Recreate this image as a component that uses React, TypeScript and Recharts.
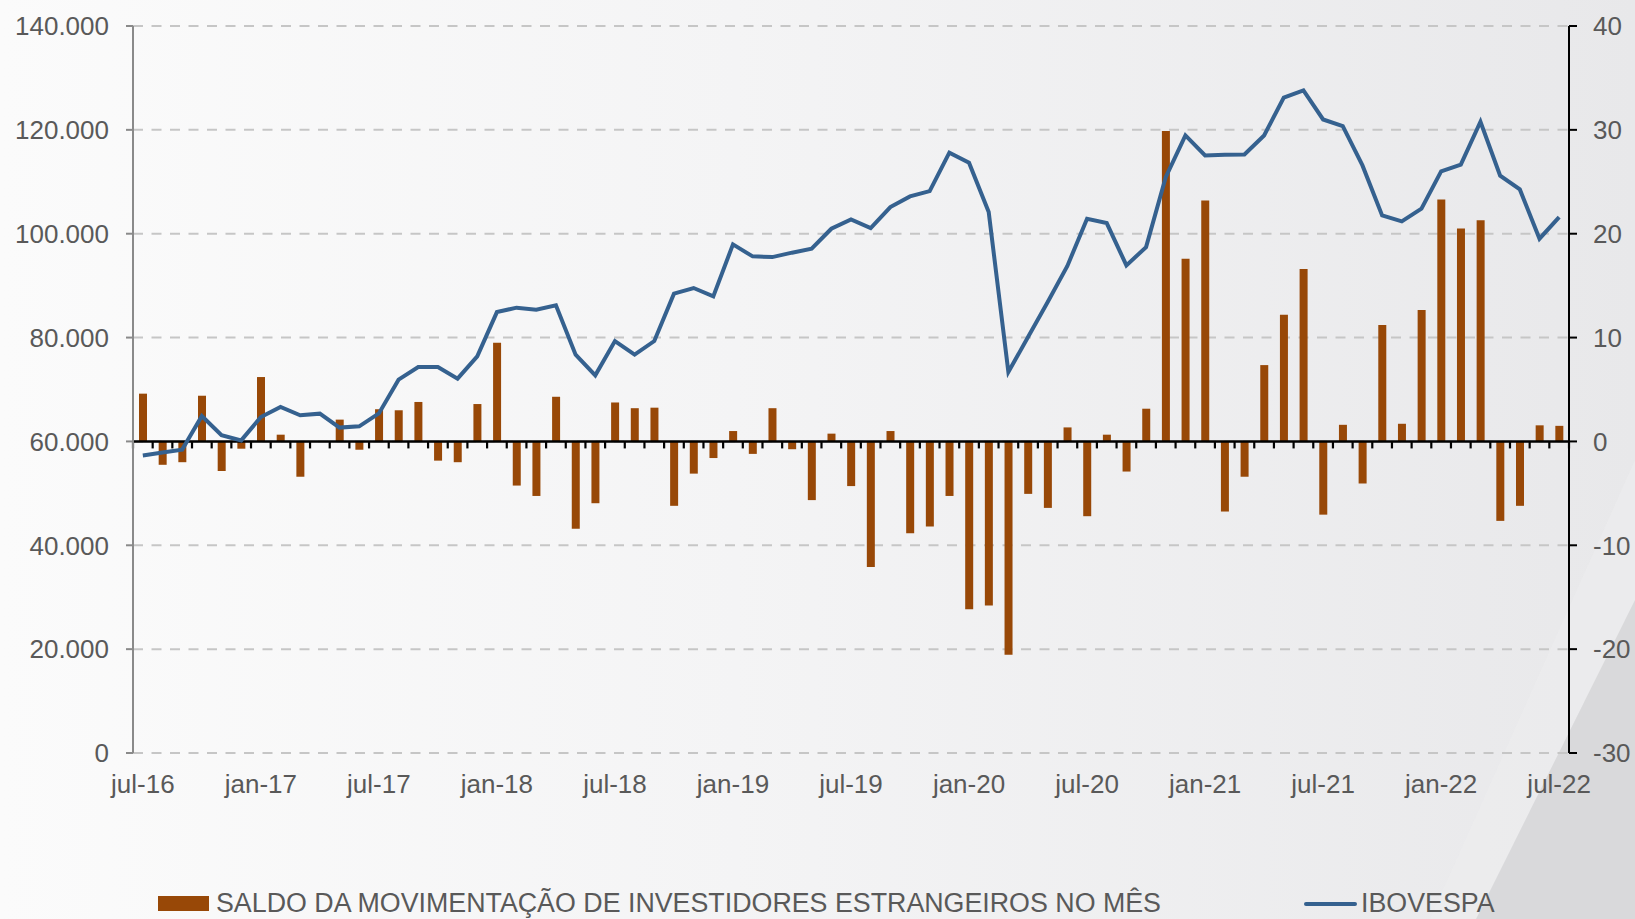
import { Bar, CartesianGrid, ComposedChart, Line, ReferenceLine, XAxis, YAxis } from "recharts";

const months = [
  "jul-16", "ago-16", "set-16", "out-16", "nov-16", "dez-16",
  "jan-17", "fev-17", "mar-17", "abr-17", "mai-17", "jun-17",
  "jul-17", "ago-17", "set-17", "out-17", "nov-17", "dez-17",
  "jan-18", "fev-18", "mar-18", "abr-18", "mai-18", "jun-18",
  "jul-18", "ago-18", "set-18", "out-18", "nov-18", "dez-18",
  "jan-19", "fev-19", "mar-19", "abr-19", "mai-19", "jun-19",
  "jul-19", "ago-19", "set-19", "out-19", "nov-19", "dez-19",
  "jan-20", "fev-20", "mar-20", "abr-20", "mai-20", "jun-20",
  "jul-20", "ago-20", "set-20", "out-20", "nov-20", "dez-20",
  "jan-21", "fev-21", "mar-21", "abr-21", "mai-21", "jun-21",
  "jul-21", "ago-21", "set-21", "out-21", "nov-21", "dez-21",
  "jan-22", "fev-22", "mar-22", "abr-22", "mai-22", "jun-22",
  "jul-22",
];

// saldo mensal de estrangeiros (R$ bi) - eixo da direita
const saldo = [
  4.6, -2.25, -2.0, 4.4, -2.85, -0.7,
  6.2, 0.65, -3.4, 0, 2.1, -0.8,
  3.1, 3.0, 3.8, -1.85, -2.0, 3.6,
  9.5, -4.25, -5.25, 4.3, -8.4, -5.95,
  3.75, 3.2, 3.25, -6.2, -3.1, -1.6,
  1.0, -1.2, 3.2, -0.75, -5.65, 0.75,
  -4.3, -12.1, 1.0, -8.85, -8.2, -5.25,
  -16.15, -15.8, -20.55, -5.05, -6.4, 1.35,
  -7.2, 0.65, -2.9, 3.15, 29.9, 17.6,
  23.2, -6.75, -3.4, 7.35, 12.2, 16.6,
  -7.05, 1.6, -4.05, 11.2, 1.7, 12.65,
  23.3, 20.5, 21.3, -7.65, -6.2, 1.55,
  1.5,
];

// Ibovespa (pontos) - eixo da esquerda
const ibovespa = [
  57300, 57850, 58420, 64900, 61200, 60200,
  64700, 66630, 65030, 65350, 62660, 62900,
  65400, 71900, 74330, 74330, 72090, 76380,
  84910, 85760, 85370, 86200, 76710, 72730,
  79330, 76710, 79330, 88450, 89540, 87940,
  97950, 95640, 95500, 96350, 97110, 100960,
  102760, 101090, 105130, 107180, 108200, 115600,
  113670, 104170, 73360, 80100, 86840, 93800,
  102890, 102050, 93900, 97420, 110900, 118930,
  115080, 115210, 115270, 118930, 126200, 127600,
  122000, 120710, 113150, 103530, 102370, 104820,
  112000, 113290, 121570, 111190, 108530, 99040,
  103200,
];

const leftTicks = [0, 20000, 40000, 60000, 80000, 100000, 120000, 140000];
const rightTicks = [-30, -20, -10, 0, 10, 20, 30, 40];

const rows = months.map((m, i) => ({ m, saldo: saldo[i], ibov: ibovespa[i] }));

const FONT = '"Liberation Sans", Arial, sans-serif';
const TEXT = "#595959";
const BAR = "#984807";
const LINE = "#35618f";

const fmtPts = (v: number) => String(v).replace(/\B(?=(\d{3})+(?!\d))/g, ".");

// zero line of the right axis, with the small category ticks hanging below it
function ZeroAxis(p: any) {
  const { x1, x2, y1 } = p;
  const step = (x2 - x1) / months.length;
  const marks = [];
  for (let k = 0; k <= months.length; k++) {
    const x = x1 + step * k;
    marks.push(<line key={k} x1={x} x2={x} y1={y1} y2={y1 + 7} stroke="#000" strokeWidth={2.2} />);
  }
  return (
    <g>
      {marks}
      <line x1={x1} x2={x2} y1={y1} y2={y1} stroke="#000" strokeWidth={2.6} />
    </g>
  );
}

export default function App() {
  return (
    <div
      style={{
        position: "absolute",
        left: 0,
        top: 0,
        width: 1635,
        height: 919,
        overflow: "hidden",
        fontFamily: FONT,
        background: "linear-gradient(90deg, #fbfbfb 0%, #f4f4f5 45%, #e8e8ea 100%)",
      }}
    >
      <svg width={1635} height={919} style={{ position: "absolute", left: 0, top: 0 }}>
        <polygon points="1635,460 1635,919 1430,919" fill="#ececee" opacity={0.6} />
        <polygon points="1635,600 1635,919 1476,919" fill="#d9d9db" />
      </svg>

      <div style={{ position: "absolute", left: 0, top: 0 }}>
        <ComposedChart
          width={1635}
          height={919}
          data={rows}
          margin={{ top: 26, right: 0, bottom: 126, left: 0 }}
        >
          <CartesianGrid
            yAxisId="left"
            vertical={false}
            stroke="#c6c6c6"
            strokeWidth={2}
            strokeDasharray="10 8.5"
          />
          <XAxis
            dataKey="m"
            interval={5}
            axisLine={false}
            tickLine={false}
            tickSize={0}
            tickMargin={22}
            height={40}
            tick={{ fill: TEXT, fontSize: 26, fontFamily: FONT }}
          />
          <YAxis
            yAxisId="left"
            orientation="left"
            width={133}
            domain={[0, 140000]}
            ticks={leftTicks}
            interval={0}
            tickFormatter={fmtPts}
            axisLine={{ stroke: "#8a8a8a", strokeWidth: 2 }}
            tickLine={{ stroke: "#8a8a8a", strokeWidth: 2 }}
            tickSize={7}
            tickMargin={17}
            tick={{ fill: TEXT, fontSize: 26, fontFamily: FONT }}
          />
          <YAxis
            yAxisId="right"
            orientation="right"
            width={66}
            domain={[-30, 40]}
            ticks={rightTicks}
            interval={0}
            axisLine={{ stroke: "#000", strokeWidth: 2 }}
            tickLine={{ stroke: "#000", strokeWidth: 2 }}
            tickSize={8}
            tickMargin={16}
            tick={{ fill: TEXT, fontSize: 26, fontFamily: FONT }}
          />
          <Bar yAxisId="right" dataKey="saldo" fill={BAR} barSize={8} isAnimationActive={false} />
          <ReferenceLine yAxisId="right" y={0} shape={ZeroAxis} />
          <Line
            yAxisId="left"
            dataKey="ibov"
            type="linear"
            stroke={LINE}
            strokeWidth={4}
            dot={false}
            activeDot={false}
            isAnimationActive={false}
          />
        </ComposedChart>
      </div>

      {/* legend */}
      <div style={{ position: "absolute", left: 158, top: 896, width: 51, height: 15, background: BAR }} />
      <div
        style={{
          position: "absolute",
          left: 216,
          top: 887,
          fontSize: 26.8,
          color: TEXT,
          whiteSpace: "nowrap",
          lineHeight: "32px",
        }}
      >
        SALDO DA MOVIMENTAÇÃO DE INVESTIDORES ESTRANGEIROS NO MÊS
      </div>
      <div style={{ position: "absolute", left: 1304, top: 902, width: 53, height: 4, background: LINE, borderRadius: 2 }} />
      <div
        style={{
          position: "absolute",
          left: 1361,
          top: 887,
          fontSize: 26.8,
          color: TEXT,
          whiteSpace: "nowrap",
          lineHeight: "32px",
        }}
      >
        IBOVESPA
      </div>
    </div>
  );
}
